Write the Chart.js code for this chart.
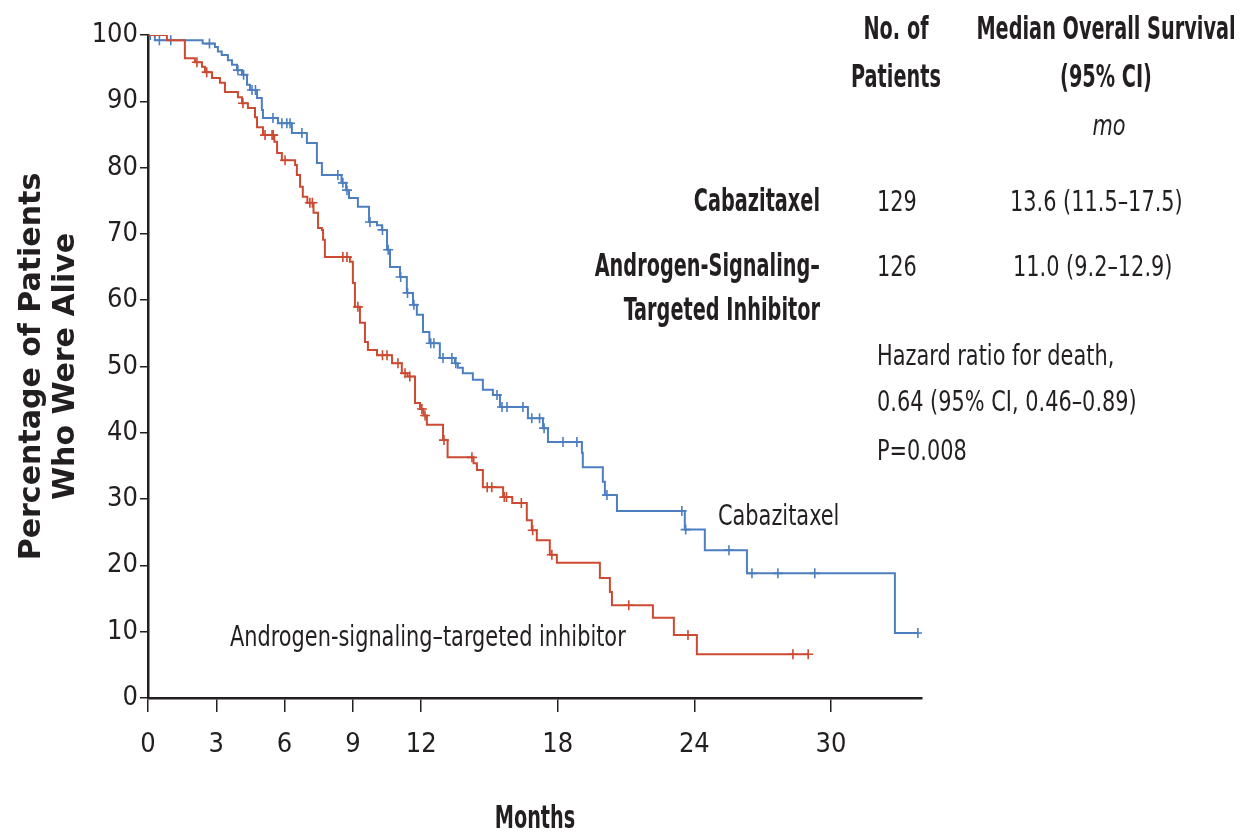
<!DOCTYPE html>
<html lang="en">
<head>
<meta charset="UTF-8">
<title>Overall Survival</title>
<script src="https://cdn.jsdelivr.net/npm/chart.js@4"></script>
<style>
  body { margin: 0; background: #fff; }
  #wrap { width: 1248px; height: 832px; }
</style>
</head>
<body>
<div id="wrap"><canvas id="km"></canvas></div>
<script>
// Kaplan-Meier steps: time (months) of each drop and survival (%) after it
const cabTimes = [0, 0.3, 2.4, 2.94, 3.07, 3.24, 3.51, 3.69, 3.91, 4.13, 4.35, 4.48, 4.79, 5.0, 5.05, 5.71, 6.32, 6.98, 7.42, 7.64,
  8.5, 8.7, 8.83, 9.22, 9.71, 10.06, 10.28, 10.5, 10.63, 11.07, 11.37, 11.64, 11.81, 12.08, 12.36, 12.82, 13.48, 13.61, 13.83, 14.27,
  14.71, 15.15, 15.46, 16.69, 17.35, 17.57, 19.06, 19.1, 19.98, 20.07, 20.6, 23.58, 24.46, 26.31, 32.81];
const cabSurv = [100, 99.2, 98.7, 98.2, 97.5, 97.0, 96.2, 95.5, 94.7, 94.0, 92.5, 91.7, 90.5, 88.7, 87.5, 86.7, 85.2, 83.7, 80.7, 78.9,
  77.7, 76.6, 75.4, 74.1, 71.8, 71.3, 70.6, 67.6, 65.0, 63.5, 61.1, 59.3, 57.8, 55.2, 53.5, 51.3, 50.5, 49.8, 49.0, 48.0,
  46.5, 45.7, 43.9, 42.2, 40.7, 38.6, 37.0, 34.8, 32.6, 30.6, 28.2, 25.4, 22.3, 18.8, 9.8];
const cabCensor = [0.1, 0.5, 1.0, 2.7, 3.95, 4.2, 4.57, 4.72, 5.49, 5.88, 6.1, 6.24, 6.76, 8.34, 8.56, 8.74, 9.75, 10.3, 10.55, 11.1,
  11.4, 11.68, 12.42, 12.56, 12.96, 13.35, 13.52, 15.33, 15.55, 15.77, 16.47, 16.86, 17.2, 17.4, 18.23, 18.84, 20.16, 23.45, 23.62,
  25.52, 26.53, 27.67, 29.29, 33.82];

const asiTimes = [0, 0.83, 1.62, 2.06, 2.37, 2.5, 2.81, 3.16, 3.38, 3.95, 4.13, 4.39, 4.7, 4.79, 5.05, 5.55, 5.67, 5.88, 6.46, 6.54,
  6.68, 6.8, 7.0, 7.27, 7.47, 7.64, 7.69, 7.77, 8.87, 9.0, 9.09, 9.31, 9.53, 9.66, 10.06, 10.72, 11.15, 11.4, 11.73, 11.95,
  12.1, 12.25, 12.96, 13.16, 14.3, 14.45, 14.71, 15.6, 16.0, 16.64, 16.86, 17.08, 17.65, 17.96, 19.85, 20.29, 20.38, 22.18, 23.1, 24.11];
const asiSurv = [100, 99.2, 96.5, 95.9, 95.2, 94.4, 93.5, 92.8, 91.4, 90.6, 89.7, 89.0, 87.6, 86.1, 84.9, 83.9, 82.2, 81.1, 80.4, 78.9,
  77.1, 75.6, 74.7, 73.2, 70.9, 70.6, 69.1, 66.5, 65.8, 62.6, 59.0, 56.6, 53.7, 52.5, 51.7, 50.5, 49.0, 48.5, 44.5, 43.6,
  42.6, 41.2, 38.9, 36.3, 35.4, 34.4, 31.8, 30.3, 29.4, 26.8, 25.3, 23.8, 21.6, 20.4, 18.1, 16.0, 14.0, 12.1, 9.5, 6.6];
const asiCensor = [2.15, 2.58, 4.17, 5.14, 5.45, 5.5, 6.02, 7.11, 7.22, 8.56, 8.74, 9.22, 10.3, 10.5, 10.98, 11.29, 11.5, 12.03, 12.17,
  13.0, 14.23, 14.9, 15.1, 15.65, 15.75, 16.4, 16.9, 17.74, 21.12, 23.72, 28.33, 29.0];

const xTicks = [0, 3, 6, 9, 12, 18, 24, 30];
const xMax = 34;

const BLUE = '#4d7fc0';
const RED = '#cd4a32';
const INK = '#231f20';
const FONT = "'DejaVu Sans Condensed', 'DejaVu Sans', sans-serif";

// survival at time t from the step arrays
function survAt(times, surv, t) {
  let s = surv[0];
  for (let i = 0; i < times.length; i++) if (times[i] <= t) s = surv[i];
  return s;
}

function curve(times, surv, censor) {
  const pts = times.map((t, i) => ({x: t, y: surv[i]}));
  const end = Math.max(...censor);
  pts.push({x: end, y: survAt(times, surv, end)});
  return pts;
}

function marks(times, surv, censor) {
  return censor.map(t => ({x: t, y: survAt(times, surv, t)}));
}

// canvas text squeezed horizontally to mimic the condensed face of the original
function txt(ctx, s, x, y, o) {
  ctx.save();
  ctx.font = (o.italic ? 'italic ' : '') + (o.bold ? 'bold ' : '') + o.size + 'px ' + FONT;
  ctx.fillStyle = INK;
  ctx.textBaseline = 'alphabetic';
  ctx.textAlign = o.align || 'left';
  ctx.translate(x, y);
  ctx.scale(o.sx || 1, 1);
  ctx.fillText(s, 0, 0);
  ctx.restore();
}

const notes = {
  id: 'notes',
  afterDraw(chart) {
    const ctx = chart.ctx;
    const B = {bold: true, size: 32, sx: 0.67};
    const N = {size: 29, sx: 0.8};
    txt(ctx, 'No. of', 896, 39, {...B, align: 'center'});
    txt(ctx, 'Patients', 896, 87, {...B, align: 'center'});
    txt(ctx, 'Median Overall Survival', 1106, 39, {...B, align: 'center'});
    txt(ctx, '(95% CI)', 1106, 87, {...B, align: 'center'});
    txt(ctx, 'mo', 1109, 135, {...N, italic: true, align: 'center'});

    txt(ctx, 'Cabazitaxel', 820, 211, {...B, align: 'right'});
    txt(ctx, '129', 877, 211, N);
    txt(ctx, '13.6 (11.5\u201317.5)', 1010, 211, N);
    txt(ctx, 'Androgen-Signaling\u2013', 820, 276, {...B, align: 'right'});
    txt(ctx, 'Targeted Inhibitor', 820, 320, {...B, align: 'right'});
    txt(ctx, '126', 877, 276, N);
    txt(ctx, '11.0 (9.2\u201312.9)', 1013, 276, N);

    txt(ctx, 'Hazard ratio for death,', 877, 365, N);
    txt(ctx, '0.64 (95% CI, 0.46\u20130.89)', 877, 411, N);
    txt(ctx, 'P=0.008', 877, 460, N);

    txt(ctx, 'Cabazitaxel', 718, 525, N);
    txt(ctx, 'Androgen-signaling\u2013targeted inhibitor', 230, 646, N);

    txt(ctx, 'Months', 535, 828, {...B, align: 'center'});
  }
};

new Chart(document.getElementById('km'), {
  type: 'line',
  data: {
    datasets: [
      {label: 'Androgen-signaling\u2013targeted inhibitor', data: curve(asiTimes, asiSurv, asiCensor),
        borderColor: RED, borderWidth: 2, stepped: 'before', pointRadius: 0, fill: false},
      {label: 'Cabazitaxel', data: curve(cabTimes, cabSurv, cabCensor),
        borderColor: BLUE, borderWidth: 2, stepped: 'before', pointRadius: 0, fill: false},
      {type: 'scatter', label: 'ASI censored', data: marks(asiTimes, asiSurv, asiCensor),
        pointStyle: 'cross', pointRadius: 5, borderColor: RED, borderWidth: 1.6, showLine: false},
      {type: 'scatter', label: 'Cabazitaxel censored', data: marks(cabTimes, cabSurv, cabCensor),
        pointStyle: 'cross', pointRadius: 5, borderColor: BLUE, borderWidth: 1.6, showLine: false}
    ]
  },
  options: {
    responsive: true,
    maintainAspectRatio: false,
    animation: false,
    layout: {padding: {left: 15, top: 35, right: 326, bottom: 0}},
    plugins: {legend: {display: false}, tooltip: {enabled: false}},
    scales: {
      x: {
        type: 'linear', min: 0, max: xMax,
        afterBuildTicks: s => { s.ticks = xTicks.map(v => ({value: v})); },
        afterFit: s => { s.height = 134; },
        grid: {drawOnChartArea: false, drawTicks: true, tickLength: 14, color: INK, lineWidth: 1.5},
        border: {display: true, color: INK, width: 2.5},
        ticks: {color: INK, font: {family: FONT, size: 27}, padding: 17, maxRotation: 0, autoSkip: false},
        title: {display: false}
      },
      y: {
        min: 0, max: 100,
        afterFit: s => { s.width = 133; },
        grid: {drawOnChartArea: false, drawTicks: true, tickLength: 8, color: INK, lineWidth: 1.5},
        border: {display: true, color: INK, width: 2.5},
        ticks: {stepSize: 10, color: INK, font: {family: FONT, size: 27}, padding: 2},
        title: {display: true, text: ['Percentage of Patients', 'Who Were Alive'], color: INK,
          font: {family: "'DejaVu Sans', sans-serif", size: 30, weight: 'bold', lineHeight: 34 / 30}, padding: 0}
      }
    }
  },
  plugins: [notes]
});
</script>
</body>
</html>
